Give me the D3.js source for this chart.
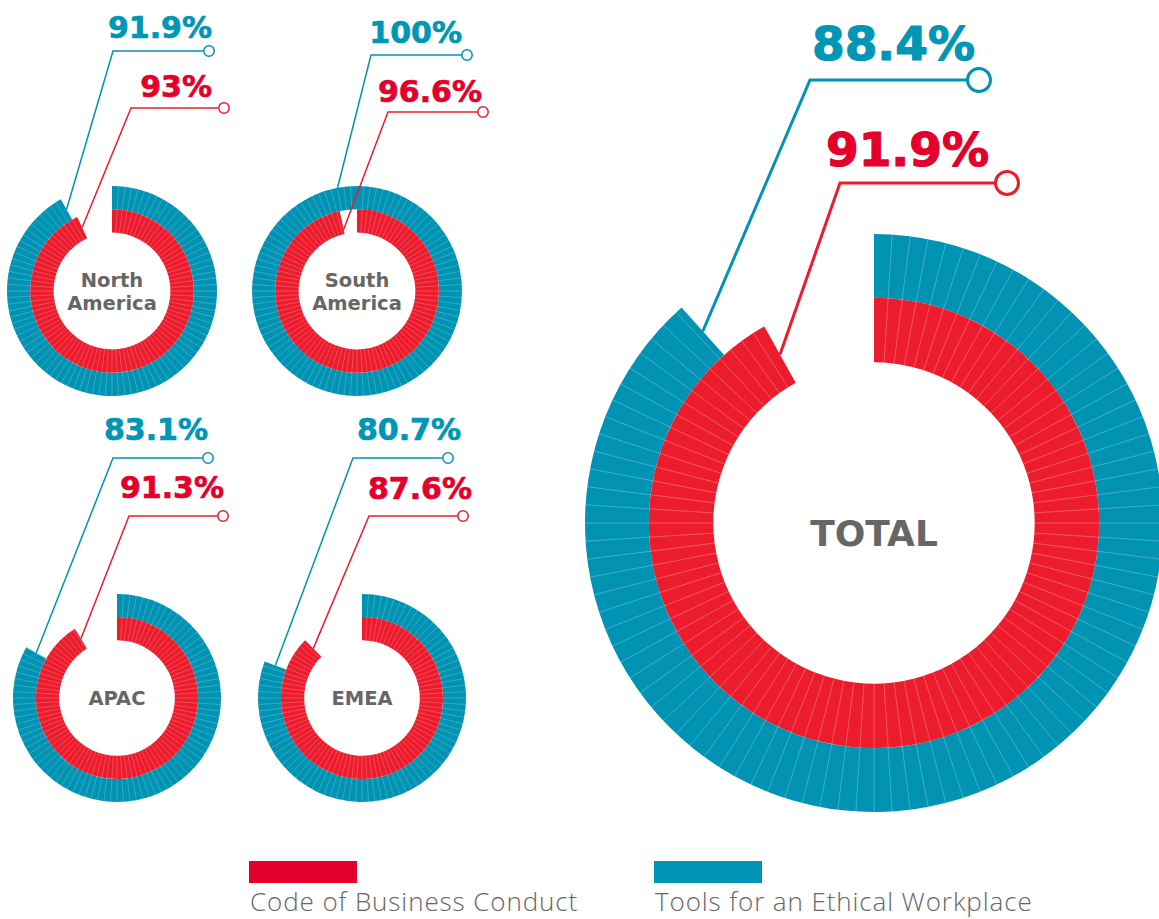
<!DOCTYPE html>
<html>
<head>
<meta charset="utf-8">
<script src="https://cdn.jsdelivr.net/npm/d3@7/dist/d3.min.js"></script>
<style>
  html, body { margin: 0; padding: 0; background: #fff; }
  svg { display: block; }
</style>
</head>
<body>
<svg id="chart" width="1159" height="919"></svg>
<script>
// ---------------- DATA ----------------
const regions = ["North America", "South America", "APAC", "EMEA", "TOTAL"];
const codeOfConduct = [93, 96.6, 91.3, 87.6, 91.9];       // red series (%)
const ethicalTools  = [91.9, 100, 83.1, 80.7, 88.4];      // blue series (%)
const seriesNames = ["Code of Business Conduct", "Tools for an Ethical Workplace"];
const labelLines = [["North", "America"], ["South", "America"], ["APAC"], ["EMEA"], ["TOTAL"]];

// ---------------- LAYOUT / STYLE ----------------
const colors = {
  redArc: "#ec1c2d", blueArc: "#0093b3",
  redText: "#e4002b", blueText: "#0096b5",
  gray: "#666666"
};
const layout = [
  { cx: 112, cy: 291, R: 105, big: false, labelDy: 0,
    blue: { tr: 212, bl: 38, hy: 51, hx0: 113, cX: 209 },
    red:  { tr: 212, bl: 97, hy: 108, hx0: 131, cX: 224 } },
  { cx: 357, cy: 291, R: 105, big: false, labelDy: 0,
    blue: { tr: 462, bl: 43, hy: 55, hx0: 371, cX: 467, tipAng: -11.5, tipR: 0.97 },
    red:  { tr: 482, bl: 102, hy: 112, hx0: 388, cX: 483, tipR: 0.6 } },
  { cx: 117, cy: 698, R: 104, big: false, labelDy: 0,
    blue: { tr: 208, bl: 440, hy: 458, hx0: 113, cX: 208 },
    red:  { tr: 224, bl: 498, hy: 516, hx0: 129, cX: 223 } },
  { cx: 362, cy: 698, R: 104, big: false, labelDy: 0,
    blue: { tr: 461, bl: 440, hy: 458, hx0: 353, cX: 448 },
    red:  { tr: 472, bl: 499, hy: 516, hx0: 369, cX: 463 } },
  { cx: 874, cy: 523, R: 289, big: true, labelDy: 10,
    blue: { tr: 975, bl: 60, hy: 80, hx0: 810, cX: 979 },
    red:  { tr: 989, bl: 166, hy: 183, hx0: 840, cX: 1007 } }
];
const ringFrac = { inner: 0.556, mid: 0.779, outer: 1 };

// ---------------- DRAW ----------------
const svg = d3.select("#chart");
const angle = d3.scaleLinear().domain([0, 100]).range([0, 2 * Math.PI]);
const arc = d3.arc();

function polar(cx, cy, r, a) {
  return [cx + r * Math.sin(a), cy - r * Math.cos(a)];
}

regions.forEach((name, i) => {
  const L = layout[i];
  const g = svg.append("g");
  const rings = [
    { key: "blue", value: ethicalTools[i], r0: L.R * ringFrac.mid, r1: L.R * ringFrac.outer, fill: colors.blueArc, text: colors.blueText },
    { key: "red",  value: codeOfConduct[i], r0: L.R * ringFrac.inner, r1: L.R * ringFrac.mid, fill: colors.redArc, text: colors.redText }
  ];

  rings.forEach(ring => {
    const rg = g.append("g").attr("transform", `translate(${L.cx},${L.cy})`);
    rg.append("path")
      .attr("d", arc({ innerRadius: ring.r0, outerRadius: ring.r1, startAngle: 0, endAngle: angle(ring.value) }))
      .attr("fill", ring.fill);
    const seps = d3.range(1, Math.ceil(ring.value));
    rg.selectAll("line.sep").data(seps).enter().append("line")
      .attr("class", "sep")
      .attr("x1", d => polar(0, 0, ring.r0, angle(d))[0])
      .attr("y1", d => polar(0, 0, ring.r0, angle(d))[1])
      .attr("x2", d => polar(0, 0, ring.r1, angle(d))[0])
      .attr("y2", d => polar(0, 0, ring.r1, angle(d))[1])
      .attr("stroke", "#ffffff")
      .attr("stroke-opacity", 0.38)
      .attr("stroke-width", L.big ? 0.7 : 0.55);
  });

  rings.forEach(ring => {
    const c = L[ring.key];
    const tipA = c.tipAng !== undefined ? c.tipAng * Math.PI / 180 : angle(ring.value);
    const tipR = c.tipR !== undefined ? c.tipR * L.R : (ring.r0 + ring.r1) / 2;
    const tip = polar(L.cx, L.cy, tipR, tipA);
    const circR = L.big ? 11.5 : 5.2;
    const sw = L.big ? 3 : 1.5;
    g.append("path")
      .attr("d", d3.line()([[c.cX - circR, c.hy], [c.hx0, c.hy], tip]))
      .attr("fill", "none")
      .attr("stroke", ring.fill)
      .attr("stroke-width", sw);
    g.append("circle")
      .attr("cx", c.cX).attr("cy", c.hy).attr("r", circR)
      .attr("fill", "#fff")
      .attr("stroke", ring.fill)
      .attr("stroke-width", sw);
    g.append("text")
      .attr("x", c.tr).attr("y", c.bl)
      .attr("text-anchor", "end")
      .attr("font-family", "'DejaVu Sans', sans-serif")
      .attr("font-weight", "bold")
      .attr("font-size", L.big ? 47 : 30)
      .attr("fill", ring.text)
      .attr("stroke", ring.text)
      .attr("stroke-width", L.big ? 1.2 : 0.7)
      .attr("stroke-linejoin", "round")
      .text(d3.format("")(ring.value) + "%");
  });

  const lines = labelLines[i];
  const fs = L.big ? 36 : 19.5;
  const lh = fs * 1.18;
  const t = g.append("text")
    .attr("text-anchor", "middle")
    .attr("font-family", "'DejaVu Sans', sans-serif")
    .attr("font-weight", "bold")
    .attr("font-size", fs)
    .attr("fill", colors.gray);
  lines.forEach((ln, k) => {
    t.append("tspan")
      .attr("x", L.cx)
      .attr("y", L.cy + L.labelDy + fs * 0.36 + (k - (lines.length - 1) / 2) * lh)
      .text(ln);
  });
});

// legend
const legendX = [249, 654];
const legendColors = [colors.redText, "#0094b5"];
seriesNames.forEach((s, k) => {
  svg.append("rect")
    .attr("x", legendX[k]).attr("y", 861)
    .attr("width", 108).attr("height", 22)
    .attr("fill", legendColors[k]);
  svg.append("text")
    .attr("x", legendX[k] + 1).attr("y", 911)
    .attr("font-family", "'Open Sans', sans-serif")
    .attr("font-weight", 300)
    .attr("font-size", 26)
    .attr("letter-spacing", 0.9)
    .attr("fill", colors.gray)
    .text(s);
});
</script>
</body>
</html>
